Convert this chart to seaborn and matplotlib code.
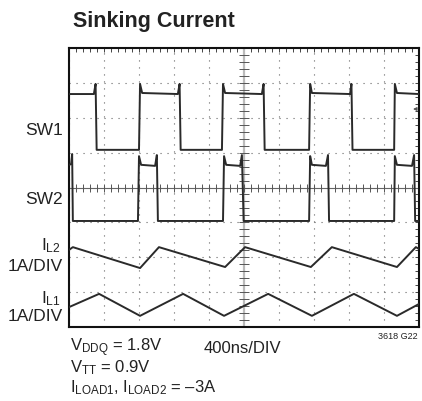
import matplotlib
matplotlib.use("Agg")
import matplotlib.pyplot as plt
from matplotlib.ticker import MultipleLocator
import numpy as np
import seaborn as sns

# ---------------------------------------- DATA ----------------------------------------
# scope screen: x in divisions (400ns/DIV, 10 div), y in divisions from bottom (8 div)
sw1_x = [0, 0.71, 0.76, 0.79, 2.00, 2.03, 2.09, 3.11, 3.16, 3.19, 4.37, 4.40, 4.46,
         5.51, 5.56, 5.59, 6.86, 6.89, 6.94, 8.03, 8.07, 8.10, 9.29, 9.31, 9.37, 10.0]
sw1_y = [6.68, 6.68, 6.97, 5.08, 5.08, 6.97, 6.71, 6.68, 6.97, 5.08, 5.08, 6.97, 6.71,
         6.68, 6.97, 5.08, 5.08, 6.97, 6.71, 6.68, 6.97, 5.08, 5.08, 6.97, 6.71, 6.68]

sw2_x = [0, 0.06, 0.09, 0.11, 1.97, 2.00, 2.06, 2.46, 2.51, 2.54, 4.40, 4.43, 4.49, 4.89,
         4.94, 4.99, 6.86, 6.89, 6.94, 7.34, 7.40, 7.43, 9.29, 9.31, 9.37, 9.80, 9.86, 9.89, 10.0]
sw2_y = [4.65, 4.67, 4.96, 3.04, 3.04, 4.90, 4.65, 4.62, 4.93, 3.04, 3.04, 4.90, 4.65, 4.62,
         4.93, 3.04, 3.04, 4.90, 4.65, 4.62, 4.93, 3.04, 3.04, 4.90, 4.65, 4.62, 4.93, 3.04, 3.04]

il2_x = [0, 0.11, 2.03, 2.57, 4.46, 5.03, 6.91, 7.51, 9.37, 9.91, 10.0]
il2_y = [2.21, 2.29, 1.69, 2.29, 1.72, 2.29, 1.72, 2.29, 1.72, 2.29, 2.24]

il1_x = [0, 0.86, 2.03, 3.26, 4.43, 5.69, 6.94, 8.14, 9.37, 10.0]
il1_y = [0.57, 0.95, 0.32, 0.95, 0.32, 0.95, 0.32, 0.95, 0.32, 0.66]

# ---------------------------------------- STYLE ----------------------------------------
sns.set_style("white")
plt.rcParams["font.family"] = ["Liberation Sans", "DejaVu Sans"]
plt.rcParams["mathtext.fontset"] = "custom"
plt.rcParams["mathtext.rm"] = "Liberation Sans"
plt.rcParams["mathtext.it"] = "Liberation Sans"

W, H = 422, 402
fig = plt.figure(figsize=(W / 100, H / 100), dpi=100)
ax = fig.add_axes([69 / W, (H - 328) / H, 350 / W, 279 / H])

ax.set_xlim(0, 10)
ax.set_ylim(0, 8)
ax.set_xticks(range(11))
ax.set_yticks(range(9))
ax.xaxis.set_minor_locator(MultipleLocator(0.2))
ax.yaxis.set_minor_locator(MultipleLocator(0.2))
ax.tick_params(which="both", direction="in", length=3, width=0.7, color="#444444",
               top=True, right=True, labelbottom=False, labelleft=False)
ax.grid(True, which="major", color="#666666", linestyle=(0, (1, 5.3)), lw=0.8)
for sp in ax.spines.values():
    sp.set_linewidth(1.5)
    sp.set_color("#111111")

# center graticule
ax.axvline(5, color="#bbbbbb", lw=1.6, zorder=1)
ax.axhline(4, color="#666666", lw=0.8, zorder=1)
marks = np.arange(0.2, 10, 0.2)
ax.plot(marks, np.full(len(marks), 4.0), ls="none", marker="|", ms=6, mew=0.7, color="#555555")
marks_v = np.arange(0.2, 8, 0.2)
ax.plot(np.full(len(marks_v), 5.0), marks_v, ls="none", marker="_", ms=7, mew=0.7, color="#555555")

# ---------------------------------------- TRACES ----------------------------------------
for xs, ys in [(sw1_x, sw1_y), (sw2_x, sw2_y), (il2_x, il2_y), (il1_x, il1_y)]:
    sns.lineplot(x=xs, y=ys, ax=ax, estimator=None, sort=False,
                 color="#2a2a2a", lw=1.4, zorder=3)

# trigger marker
ax.annotate("", xy=(9.75, 6.25), xytext=(10, 6.25),
            arrowprops=dict(arrowstyle="-|>", color="#555555", lw=0.8, mutation_scale=5))

ax.set_xlabel("")
ax.set_ylabel("")


# ---------------------------------------- TEXT ----------------------------------------
def ftext(px, py, s, **kw):
    fig.text(px / W, 1 - py / H, s, va="baseline", **kw)


ftext(73, 27, "Sinking Current", fontsize=15.5, fontweight="bold", color="#222222")

lab = dict(fontsize=12.5, ha="right", color="#222222")
ftext(63, 135, "SW1", **lab)
ftext(63, 204, "SW2", **lab)
ftext(61, 250, r"$\mathregular{I_{L2}}$", **lab)
ftext(63, 271, "1A/DIV", **lab)
ftext(61, 303, r"$\mathregular{I_{L1}}$", **lab)
ftext(63, 321, "1A/DIV", **lab)

bot = dict(fontsize=12, ha="left", color="#222222")
ftext(70, 351, r"$\mathregular{V_{DDQ}}$ = 1.8V", **bot)
ftext(204, 353, "400ns/DIV", **bot)
ftext(70, 372, r"$\mathregular{V_{TT}}$ = 0.9V", **bot)
ftext(70, 392, r"$\mathregular{I_{LOAD1}}$, $\mathregular{I_{LOAD2}}$ = –3A", **bot)
ftext(418, 339, "3618 G22", fontsize=6.5, ha="right", color="#222222")

fig.savefig("out.png", dpi=100)
